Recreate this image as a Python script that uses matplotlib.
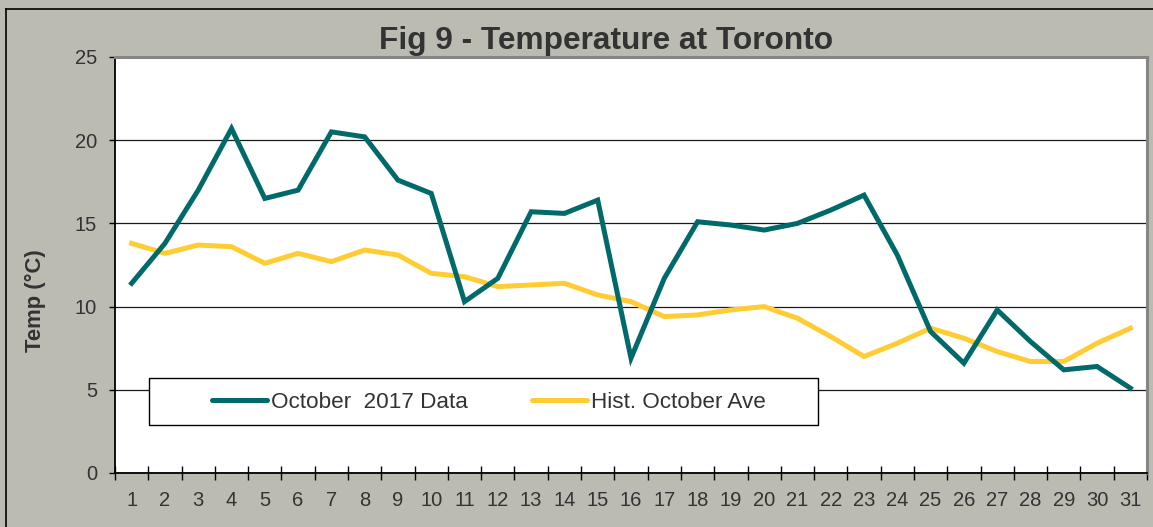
import matplotlib
matplotlib.use("Agg")
import matplotlib.pyplot as plt
from matplotlib.patches import Rectangle
from matplotlib.lines import Line2D

plt.rcParams['font.family'] = ['Liberation Sans', 'DejaVu Sans']

days = list(range(1, 32))
oct_2017 = [11.4, 13.8, 17.0, 20.7, 16.5, 17.0, 20.5, 20.2, 17.6, 16.8,
            10.3, 11.7, 15.7, 15.6, 16.4, 6.9, 11.7, 15.1, 14.9, 14.6,
            15.0, 15.8, 16.7, 13.1, 8.5, 6.6, 9.8, 7.9, 6.2, 6.4, 5.1]
hist_ave = [13.8, 13.2, 13.7, 13.6, 12.6, 13.2, 12.7, 13.4, 13.1, 12.0,
            11.8, 11.2, 11.3, 11.4, 10.7, 10.3, 9.4, 9.5, 9.8, 10.0,
            9.3, 8.2, 7.0, 7.8, 8.7, 8.1, 7.3, 6.7, 6.7, 7.8, 8.7]
yticks = [0, 5, 10, 15, 20, 25]
labels = ['October  2017 Data', 'Hist. October Ave']

bg = '#BBBBB2'
txt = '#333333'
teal = '#006A6B'
gold = '#FFCC33'

W, H = 1153, 527
fig = plt.figure(figsize=(W / 100, H / 100), dpi=100, facecolor=bg)

# plot area in pixel terms
left, top, right, bottom = 115, 57, 1147, 473
ax = fig.add_axes([left / W, 1 - bottom / H, (right - left) / W, (bottom - top) / H])
ax.set_facecolor('white')

l1, = ax.plot(days, oct_2017, color=teal, lw=3.6, solid_joinstyle='miter', zorder=4)
l2, = ax.plot(days, hist_ave, color=gold, lw=3.6, solid_joinstyle='round', zorder=3)

ax.set_xlim(0.5, 31.5)
ax.set_ylim(0, 25)
ax.set_yticks(yticks)
ax.set_xticks(days)
ax.set_xticks([d - 0.5 for d in days] + [31.5], minor=True)
ax.yaxis.grid(True, color='#1a1a1a', lw=0.9, zorder=1)
ax.set_axisbelow(True)

ax.tick_params(axis='y', direction='out', length=4, width=1, colors='black',
               labelcolor=txt, labelsize=14.5, pad=9)
ax.tick_params(axis='x', which='major', length=0, labelcolor=txt, labelsize=14.5, pad=13)
ax.tick_params(axis='x', which='minor', direction='inout', length=10, width=1, colors='black')

for s in ['left', 'bottom']:
    ax.spines[s].set_color('black')
    ax.spines[s].set_linewidth(1.3)
for s in ['top', 'right']:
    ax.spines[s].set_color('#858585')
    ax.spines[s].set_linewidth(2.2)

# legend box
bx0, by0, bx1, by1 = 149, 378, 818, 425
ax.add_patch(Rectangle(((bx0 - left) / (right - left), (bottom - by1) / (bottom - top)),
                       (bx1 - bx0) / (right - left), (by1 - by0) / (bottom - top),
                       transform=ax.transAxes, facecolor='white', edgecolor='black',
                       lw=1.0, zorder=5))
leg = ax.legend([l1, l2], labels, ncol=2, frameon=False, loc='center left',
                bbox_to_anchor=((212 - left) / (right - left), (bottom - 402) / (bottom - top)),
                borderpad=0, borderaxespad=0, handlelength=2.45, handletextpad=0.18,
                columnspacing=2.85, fontsize=16.2)
leg.set_zorder(6)
for t in leg.get_texts():
    t.set_color(txt)
for h in leg.get_lines():
    h.set_solid_capstyle('round')

fig.text(606.5 / W, 1 - 49 / H, 'Fig 9 - Temperature at Toronto', ha='center',
         va='baseline', fontsize=22.8, fontweight='bold', color=txt)
fig.text(35 / W, 1 - 301 / H, 'Temp (\u00b0C)', ha='center', va='center',
         rotation=90, fontsize=15.8, fontweight='bold', color=txt)

# outer frame lines
fig.add_artist(Line2D([6 / W, 1], [1 - 9 / H, 1 - 9 / H], color='black', lw=1.2,
                      transform=fig.transFigure))
fig.add_artist(Line2D([6 / W, 6 / W], [0, 1 - 9 / H], color='black', lw=1.2,
                      transform=fig.transFigure))

fig.savefig('out.png', dpi=100, facecolor=bg)
